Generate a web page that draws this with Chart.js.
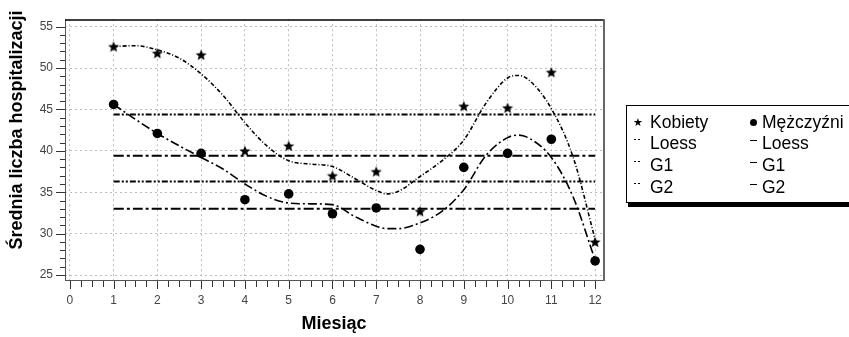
<!DOCTYPE html>
<html><head><meta charset="utf-8">
<script src="https://cdn.jsdelivr.net/npm/chart.js@4/dist/chart.umd.min.js"></script>
<style>
html,body{margin:0;padding:0;background:#fff;}
#wrap{position:relative;width:849px;height:337px;overflow:hidden;background:#fff;}
#c{position:absolute;left:0;top:0;}
#legend{position:absolute;left:626px;top:105px;width:240px;height:96px;border:1px solid #000;box-shadow:2px 4px 0 #000;background:#fff;font-family:Arial,"Liberation Sans",sans-serif;font-size:17.5px;color:#000;}
.it{position:absolute;white-space:nowrap;line-height:20px;height:20px;}
.sym{position:absolute;}
</style></head>
<body>
<div id="wrap">
<canvas id="c" width="849" height="337"></canvas>
<div id="legend">
  <div class="sym" style="left:6px;top:11px;font-size:11px;line-height:11px;">★</div>
  <div class="it" style="left:23px;top:6px;">Kobiety</div>
  <div class="sym" style="left:123px;top:13px;width:7px;height:7px;border-radius:50%;background:#000;"></div>
  <div class="it" style="left:135px;top:6px;">Mężczyźni</div>

  <div class="sym" style="left:7px;top:33px;width:2px;height:1px;background:#000;"></div>
  <div class="sym" style="left:11px;top:33px;width:2px;height:1px;background:#000;"></div>
  <div class="it" style="left:23px;top:27px;">Loess</div>
  <div class="sym" style="left:123px;top:34px;width:7px;height:1px;background:#000;"></div>
  <div class="it" style="left:135px;top:27px;">Loess</div>

  <div class="sym" style="left:7px;top:55px;width:2px;height:1px;background:#000;"></div>
  <div class="sym" style="left:11px;top:55px;width:2px;height:1px;background:#000;"></div>
  <div class="it" style="left:23px;top:49px;">G1</div>
  <div class="sym" style="left:123px;top:56px;width:7px;height:1px;background:#000;"></div>
  <div class="it" style="left:135px;top:49px;">G1</div>

  <div class="sym" style="left:7px;top:77px;width:2px;height:1px;background:#000;"></div>
  <div class="sym" style="left:11px;top:77px;width:2px;height:1px;background:#000;"></div>
  <div class="it" style="left:23px;top:71px;">G2</div>
  <div class="sym" style="left:123px;top:78px;width:7px;height:1px;background:#000;"></div>
  <div class="it" style="left:135px;top:71px;">G2</div>
</div>
</div>
<script>
// ---- data ----
const months = [1,2,3,4,5,6,7,8,9,10,11,12];
const kobiety = [52.6, 51.8, 51.6, 40.0, 40.6, 37.0, 37.5, 32.7, 45.4, 45.2, 49.5, 29.0];
const mezczyzni = [45.6, 42.1, 39.7, 34.1, 34.8, 32.4, 33.1, 28.1, 38.0, 39.7, 41.4, 26.7];
const loessX = [1,1.5,2,2.5,3,3.5,4,4.5,5,5.5,6,6.5,7,7.25,7.5,8,8.5,9,9.5,10,10.25,10.5,11,11.5,12];
const loessKobiety = [52.6,52.7,52.2,51.2,49.3,46.7,43.4,40.6,38.8,38.4,38.1,36.7,35.2,34.8,35.1,36.9,38.8,41.3,45.7,48.8,49.1,48.5,45.1,39.2,29.3];
const loessMezczyzni = [45.6,43.8,42.1,40.6,39.2,37.8,36.0,34.5,33.7,33.6,33.5,32.1,30.9,30.6,30.6,31.3,32.7,35.3,39.4,41.6,41.9,41.5,39.2,34.4,26.8];
const gKobiety = [44.4, 36.3];     // G1, G2
const gMezczyzni = [39.4, 33.0];   // G1, G2
const gRange = [1, 12];
const xTickValues = [0,1,2,3,4,5,6,7,8,9,10,11,12];
const yTickValues = [25,30,35,40,45,50,55];
const xTitle = 'Miesiąc';
const yTitle = 'Średnia liczba hospitalizacji';

// ---- star marker ----
function makeStar(size){
  const c = document.createElement('canvas');
  c.width = size; c.height = size;
  const g = c.getContext('2d');
  const cx = size/2, cy = size/2 + 0.5, R = size/2 - 0.2, r = R*0.45;
  g.beginPath();
  for (let i=0;i<10;i++){
    const a = -Math.PI/2 + i*Math.PI/5;
    const rr = i%2===0 ? R : r;
    const px = cx + rr*Math.cos(a), py = cy + rr*Math.sin(a);
    if (i===0) g.moveTo(px,py); else g.lineTo(px,py);
  }
  g.closePath();
  g.fillStyle = '#000'; g.fill();
  return c;
}
const star = makeStar(12);

const xy = (xs, ys) => xs.map((x,i)=>({x:x, y:ys[i]}));
const hline = (v) => [{x:gRange[0], y:v},{x:gRange[1], y:v}];

const lineBase = {showLine:true, pointRadius:0, pointHoverRadius:0, fill:false, borderColor:'#000', backgroundColor:'#000'};

const datasets = [
  Object.assign({}, lineBase, {label:'K G1', data:hline(gKobiety[0]), borderWidth:2, borderDash:[6,2,2,2,2,2]}),
  Object.assign({}, lineBase, {label:'K G2', data:hline(gKobiety[1]), borderWidth:2, borderDash:[6,2,2,2,2,2]}),
  Object.assign({}, lineBase, {label:'M G1', data:hline(gMezczyzni[0]), borderWidth:2, borderDash:[10,3,3,3]}),
  Object.assign({}, lineBase, {label:'M G2', data:hline(gMezczyzni[1]), borderWidth:2, borderDash:[10,3,3,3]}),
  Object.assign({}, lineBase, {label:'K Loess', data:xy(loessX, loessKobiety), borderWidth:1.6, borderDash:[4,2,1,2], cubicInterpolationMode:'monotone'}),
  Object.assign({}, lineBase, {label:'M Loess', data:xy(loessX, loessMezczyzni), borderWidth:1.6, borderDash:[9,3,2,3], cubicInterpolationMode:'monotone'}),
  {label:'Kobiety', data:xy(months, kobiety), showLine:false, pointStyle:star, pointRadius:6, pointHoverRadius:6, backgroundColor:'#000', borderColor:'#000'},
  {label:'Mężczyźni', data:xy(months, mezczyzni), showLine:false, pointStyle:'circle', pointRadius:4.8, pointHoverRadius:4.8, backgroundColor:'#000', borderColor:'#000', borderWidth:0}
];

const decor = {
  id:'decor',
  afterDraw(chart){
    const ctx = chart.ctx, a = chart.chartArea;
    const xs = chart.scales.x, ys = chart.scales.y;
    ctx.save();
    // frame
    ctx.strokeStyle = '#555'; ctx.lineWidth = 1;
    ctx.beginPath(); ctx.moveTo(a.left+0.5, a.top); ctx.lineTo(a.left+0.5, a.bottom+1); ctx.stroke();
    ctx.beginPath(); ctx.moveTo(a.left, a.bottom+0.5); ctx.lineTo(a.right+1, a.bottom+0.5); ctx.stroke();
    ctx.strokeStyle = '#000'; ctx.lineWidth = 1.5;
    ctx.beginPath(); ctx.moveTo(a.left, a.top+0.75); ctx.lineTo(a.right+1, a.top+0.75); ctx.stroke();
    ctx.strokeStyle = '#666'; ctx.lineWidth = 2;
    ctx.beginPath(); ctx.moveTo(a.right+1, a.top); ctx.lineTo(a.right+1, a.bottom+1); ctx.stroke();
    // y ticks
    ctx.strokeStyle = '#333'; ctx.lineWidth = 1;
    for (let v = Math.ceil(ys.min); v <= Math.floor(ys.max); v++){
      const py = Math.round(ys.getPixelForValue(v)) + 0.5;
      const len = (v % 5 === 0) ? 9 : 5;
      ctx.beginPath(); ctx.moveTo(a.left - len, py); ctx.lineTo(a.left, py); ctx.stroke();
    }
    // x ticks
    for (let k = 0; k <= 48; k++){
      const v = k/4;
      const px = Math.round(xs.getPixelForValue(v)) + 0.5;
      const len = (k % 4 === 0) ? 8 : 6;
      ctx.beginPath(); ctx.moveTo(px, a.bottom + 1); ctx.lineTo(px, a.bottom + 1 + len); ctx.stroke();
    }
    // titles
    ctx.fillStyle = '#000';
    ctx.font = 'bold 18px Arial, "Liberation Sans", sans-serif';
    ctx.textAlign = 'center'; ctx.textBaseline = 'middle';
    ctx.fillText(xTitle, (a.left + a.right)/2, 324);
    ctx.translate(17, 130);
    ctx.rotate(-Math.PI/2);
    ctx.fillText(yTitle, 0, 0);
    ctx.restore();
  }
};

new Chart(document.getElementById('c'), {
  type:'scatter',
  data:{datasets:datasets},
  options:{
    responsive:false, animation:false, devicePixelRatio:1,
    layout:{padding:{left:0, top:6, right:246, bottom:0}},
    plugins:{legend:{display:false}, tooltip:{enabled:false}},
    elements:{line:{tension:0.4}},
    scales:{
      x:{
        type:'linear', min:-0.11, max:12.18,
        afterFit(s){ s.height = 57; },
        afterBuildTicks(s){ s.ticks = xTickValues.map(v=>({value:v})); },
        ticks:{padding:13, color:'#444', font:{family:'Arial, "Liberation Sans", sans-serif', size:12}, maxRotation:0, autoSkip:false},
        grid:{drawTicks:false, color:'#bdbdbd', lineWidth:1, borderDash:[2,3]},
        border:{display:false, dash:[2,3]}
      },
      y:{
        type:'linear', min:24.4, max:55.9,
        afterFit(s){ s.width = 65; },
        afterBuildTicks(s){ s.ticks = yTickValues.map(v=>({value:v})); },
        ticks:{padding:12, color:'#444', font:{family:'Arial, "Liberation Sans", sans-serif', size:12}},
        grid:{drawTicks:false, color:'#bdbdbd', lineWidth:1, borderDash:[2,3]},
        border:{display:false, dash:[2,3]}
      }
    }
  },
  plugins:[decor]
});
</script>
</body></html>
